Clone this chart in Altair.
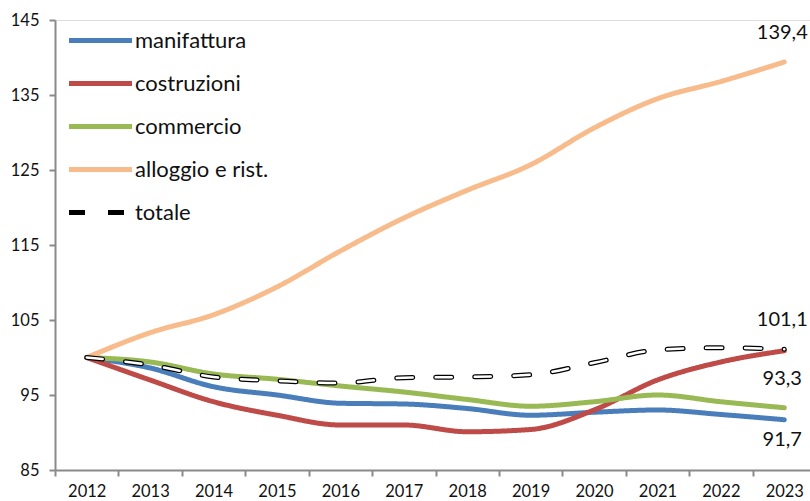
import altair as alt
import pandas as pd

years = list(range(2012, 2024))
series_names = ["manifattura", "costruzioni", "commercio", "alloggio e rist.", "totale"]
manifattura = [100, 98.6, 96.1, 95.0, 93.9, 93.8, 93.2, 92.3, 92.7, 93.0, 92.4, 91.7]
costruzioni = [100, 97.0, 94.1, 92.3, 91.0, 91.0, 90.1, 90.4, 93.0, 97.0, 99.4, 100.9]
commercio = [100, 99.4, 97.8, 97.1, 96.2, 95.4, 94.4, 93.5, 94.1, 95.0, 94.1, 93.3]
alloggio = [100, 103.3, 105.7, 109.4, 114.2, 118.6, 122.3, 125.7, 130.6, 134.5, 136.8, 139.4]
totale = [100, 99.0, 97.4, 96.9, 96.6, 97.3, 97.4, 97.7, 99.3, 101.0, 101.3, 101.1]

label_above_text = ["139,4", "101,1", "93,3"]
label_above_value = [139.4, 101.1, 93.3]
label_below_text = ["91,7"]
label_below_value = [91.7]
label_year = 2023

colors = ["#4A7EBB", "#BE4B48", "#98B954", "#F8BB8B", "#000000"]
dashes = [[1, 0], [1, 0], [1, 0], [1, 0], [16, 23]]
widths = [5, 5, 5, 5, 6.5]

rows = []
for name, vals in zip(series_names, [manifattura, costruzioni, commercio, alloggio, totale]):
    for y, v in zip(years, vals):
        rows.append({"anno": y, "valore": v, "serie": name, "k": series_names.index(name)})
df = pd.DataFrame(rows)
df_tot = df[df["serie"] == "totale"]

df_above = pd.DataFrame({"anno": [label_year] * len(label_above_text),
                         "valore": label_above_value, "testo": label_above_text})
df_below = pd.DataFrame({"anno": [label_year] * len(label_below_text),
                         "valore": label_below_value, "testo": label_below_text})

FONT = "Lato"

x_enc = alt.X(
    "anno:O",
    bandPosition=0.5,
    scale=alt.Scale(type="band", paddingInner=0, paddingOuter=0, range=[0, 761]),
    axis=alt.Axis(title=None, tickBand="extent", labelAngle=0, labelFont=FONT,
                  labelFontSize=16.5, labelColor="#111111", domainColor="#8a8a8a",
                  domainWidth=2, tickColor="#8a8a8a", tickWidth=2, tickSize=6,
                  labelPadding=7, grid=False),
)
y_enc = alt.Y(
    "valore:Q",
    scale=alt.Scale(domain=[85, 145], nice=False, zero=False),
    axis=alt.Axis(title=None, values=[85, 95, 105, 115, 125, 135, 145], labelFont=FONT,
                  labelFontSize=16.5, labelColor="#111111", domainColor="#8a8a8a",
                  domainWidth=2, tickColor="#8a8a8a", tickWidth=2, tickSize=6,
                  labelPadding=10, grid=False),
)

legend = alt.Legend(
    title=None, orient="none", legendX=22, legendY=-3,
    symbolType="M-1.5,0H1.5", symbolSize=1764, symbolStrokeWidth=5,
    labelFont=FONT, labelFontSize=22, labelColor="#111111", labelOffset=11,
    rowPadding=8,
)

lines = alt.Chart(df).mark_line(strokeCap="round", strokeJoin="round", interpolate="monotone").encode(
    x=x_enc,
    y=y_enc,
    color=alt.Color("serie:N", scale=alt.Scale(domain=series_names, range=colors), legend=legend),
    strokeDash=alt.StrokeDash("serie:N", scale=alt.Scale(domain=series_names, range=dashes), legend=legend),
    strokeWidth=alt.StrokeWidth("serie:N", scale=alt.Scale(domain=series_names, range=widths), legend=None),
    order=alt.Order("k:Q"),
)

inner = alt.Chart(df_tot).mark_line(
    strokeCap="round", strokeJoin="round", interpolate="monotone",
    color="white", strokeWidth=2.5, strokeDash=[16, 23],
).encode(x=x_enc, y=y_enc)

above = alt.Chart(df_above).mark_text(font=FONT, fontSize=20, color="#111111", dy=-29, dx=-2).encode(
    x=x_enc, y=y_enc, text="testo:N")
below = alt.Chart(df_below).mark_text(font=FONT, fontSize=20, color="#111111", dy=20, dx=-2).encode(
    x=x_enc, y=y_enc, text="testo:N")

chart = alt.layer(lines, inner, above, below).properties(
    width=755, height=450,
    padding={"left": 55, "top": 20, "right": 0, "bottom": 31},
    autosize=alt.AutoSizeParams(type="none"),
).configure_view(stroke=None).configure(background="white")

chart.save("out.html", embed_options={"renderer": "svg", "actions": False})
